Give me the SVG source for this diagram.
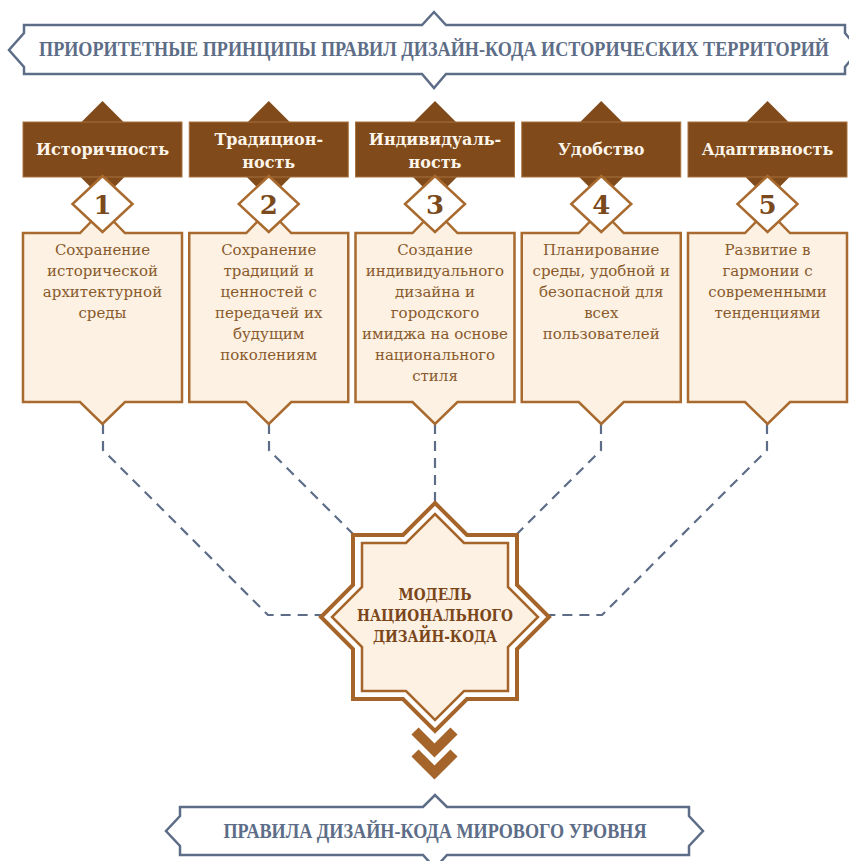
<svg xmlns="http://www.w3.org/2000/svg" width="849" height="861" viewBox="0 0 849 861">
<style>
.banner{fill:#ffffff;stroke:#5d6d87;stroke-width:2.5}
.btext{font-family:"Liberation Serif","DejaVu Serif",serif;font-weight:bold;fill:#5d6d87;text-anchor:middle}
.hd{fill:#804a1a}
.hbox{fill:#804a1a;stroke:#a8733f;stroke-width:1}
.htext{font-family:"DejaVu Serif","Liberation Serif",serif;font-weight:bold;font-size:16px;fill:#fdf5ea;text-anchor:middle}
.cbox{fill:#fcf1e3;stroke:#a86a2e;stroke-width:2.5}
.ndia{fill:#ffffff;stroke:#a86a2e;stroke-width:2.5}
.num{font-family:"DejaVu Serif","Liberation Serif",serif;font-weight:bold;font-size:26px;fill:#7a4a1c;text-anchor:middle}
.ctext{font-family:"DejaVu Serif","Liberation Serif",serif;font-size:15px;fill:#8a5a2c;text-anchor:middle}
.conn{fill:none;stroke:#5d6d87;stroke-width:2.2;stroke-dasharray:10 7}
.star1{fill:#ffffff;stroke:#a5652a;stroke-width:4}
.star2{fill:#fcf1e3;stroke:#a5652a;stroke-width:2.5}
.stext{font-family:"DejaVu Serif","Liberation Serif",serif;font-weight:bold;font-size:17px;fill:#7a461a;text-anchor:middle}
.chev{fill:none;stroke:#a5652a;stroke-width:10;stroke-linejoin:miter;stroke-linecap:butt}
</style>
<defs>
<g id="col">
<polygon class="hd" points="0,101 49,150 0,199 -49,150"/>
<rect class="hbox" x="-79.5" y="122" width="159" height="55"/>
<polygon class="cbox" points="-79.5,233 -22.5,233 0,210 22.5,233 79.5,233 79.5,402 22.5,402 0,424 -22.5,402 -79.5,402"/>
<polygon class="ndia" points="0,176 30,204 0,232 -30,204"/>
</g>
</defs>

<g id="title-top">
<polygon class="banner" points="24,25 422,25 434,12 446,25 845,25 845,33 859,50 845,67 845,74 446,74 434,88 422,74 24,74 24,67 9,50 24,33"/>
<text class="btext" transform="translate(434,56) scale(1,1.15)" x="0" y="0" font-size="18" textLength="790" lengthAdjust="spacingAndGlyphs">ПРИОРИТЕТНЫЕ ПРИНЦИПЫ ПРАВИЛ ДИЗАЙН-КОДА ИСТОРИЧЕСКИХ ТЕРРИТОРИЙ</text>
</g>

<g id="connectors">
<polyline class="conn" points="103,424 103,450 268,615 321,615"/>
<polyline class="conn" points="269,424 269,450 353,534"/>
<polyline class="conn" points="435,424 435,503"/>
<polyline class="conn" points="601,424 601,450 517,534"/>
<polyline class="conn" points="767,424 767,450 602,615 549,615"/>
</g>

<g id="node1" transform="translate(102.5,0)">
<use href="#col"/>
<text class="htext" x="0" y="155">Историчность</text>
<text class="num" x="0" y="214">1</text>
<text class="ctext"><tspan x="0" y="255">Сохранение</tspan><tspan x="0" y="276">исторической</tspan><tspan x="0" y="297">архитектурной</tspan><tspan x="0" y="318">среды</tspan></text>
</g>

<g id="node2" transform="translate(268.75,0)">
<use href="#col"/>
<text class="htext"><tspan x="0" y="145">Традицион-</tspan><tspan x="0" y="168">ность</tspan></text>
<text class="num" x="0" y="214">2</text>
<text class="ctext"><tspan x="0" y="255">Сохранение</tspan><tspan x="0" y="276">традиций и</tspan><tspan x="0" y="297">ценностей с</tspan><tspan x="0" y="318">передачей их</tspan><tspan x="0" y="339">будущим</tspan><tspan x="0" y="360">поколениям</tspan></text>
</g>

<g id="node3" transform="translate(435,0)">
<use href="#col"/>
<text class="htext"><tspan x="0" y="145">Индивидуаль-</tspan><tspan x="0" y="168">ность</tspan></text>
<text class="num" x="0" y="214">3</text>
<text class="ctext"><tspan x="0" y="255">Создание</tspan><tspan x="0" y="276">индивидуального</tspan><tspan x="0" y="297">дизайна и</tspan><tspan x="0" y="318">городского</tspan><tspan x="0" y="339">имиджа на основе</tspan><tspan x="0" y="360">национального</tspan><tspan x="0" y="381">стиля</tspan></text>
</g>

<g id="node4" transform="translate(601.25,0)">
<use href="#col"/>
<text class="htext" x="0" y="155">Удобство</text>
<text class="num" x="0" y="214">4</text>
<text class="ctext"><tspan x="0" y="255">Планирование</tspan><tspan x="0" y="276">среды, удобной и</tspan><tspan x="0" y="297">безопасной для</tspan><tspan x="0" y="318">всех</tspan><tspan x="0" y="339">пользователей</tspan></text>
</g>

<g id="node5" transform="translate(767.5,0)">
<use href="#col"/>
<text class="htext" x="0" y="155">Адаптивность</text>
<text class="num" x="0" y="214">5</text>
<text class="ctext"><tspan x="0" y="255">Развитие в</tspan><tspan x="0" y="276">гармонии с</tspan><tspan x="0" y="297">современными</tspan><tspan x="0" y="318">тенденциями</tspan></text>
</g>

<g id="model">
<polygon class="star1" points="435,503 467,535 517,535 517,585 549,617 517,649 517,699 467,699 435,731 403,699 353,699 353,649 321,617 353,585 353,535 403,535"/>
<polygon class="star2" points="435,514 464,543 508,543 508,587 538,617 508,647 508,691 464,691 435,720 406,691 362,691 362,647 332,617 362,587 362,543 406,543"/>
<text class="stext" x="435" y="600" textLength="73" lengthAdjust="spacingAndGlyphs">МОДЕЛЬ</text>
<text class="stext" x="435" y="621" textLength="156" lengthAdjust="spacingAndGlyphs">НАЦИОНАЛЬНОГО</text>
<text class="stext" x="435" y="642" textLength="124" lengthAdjust="spacingAndGlyphs">ДИЗАЙН-КОДА</text>
</g>

<g id="arrows">
<polyline class="chev" points="415,731 434.5,750.5 454,731"/>
<polyline class="chev" points="415,753 434.5,772.5 454,753"/>
</g>

<g id="title-bottom">
<polygon class="banner" points="180,807 423,807 435,795 447,807 689,807 689,816 703,831 689,846 689,855 447,855 435,868 423,855 180,855 180,846 166,831 180,816"/>
<text class="btext" x="435" y="838" font-size="20" textLength="423" lengthAdjust="spacingAndGlyphs">ПРАВИЛА ДИЗАЙН-КОДА МИРОВОГО УРОВНЯ</text>
</g>
</svg>
